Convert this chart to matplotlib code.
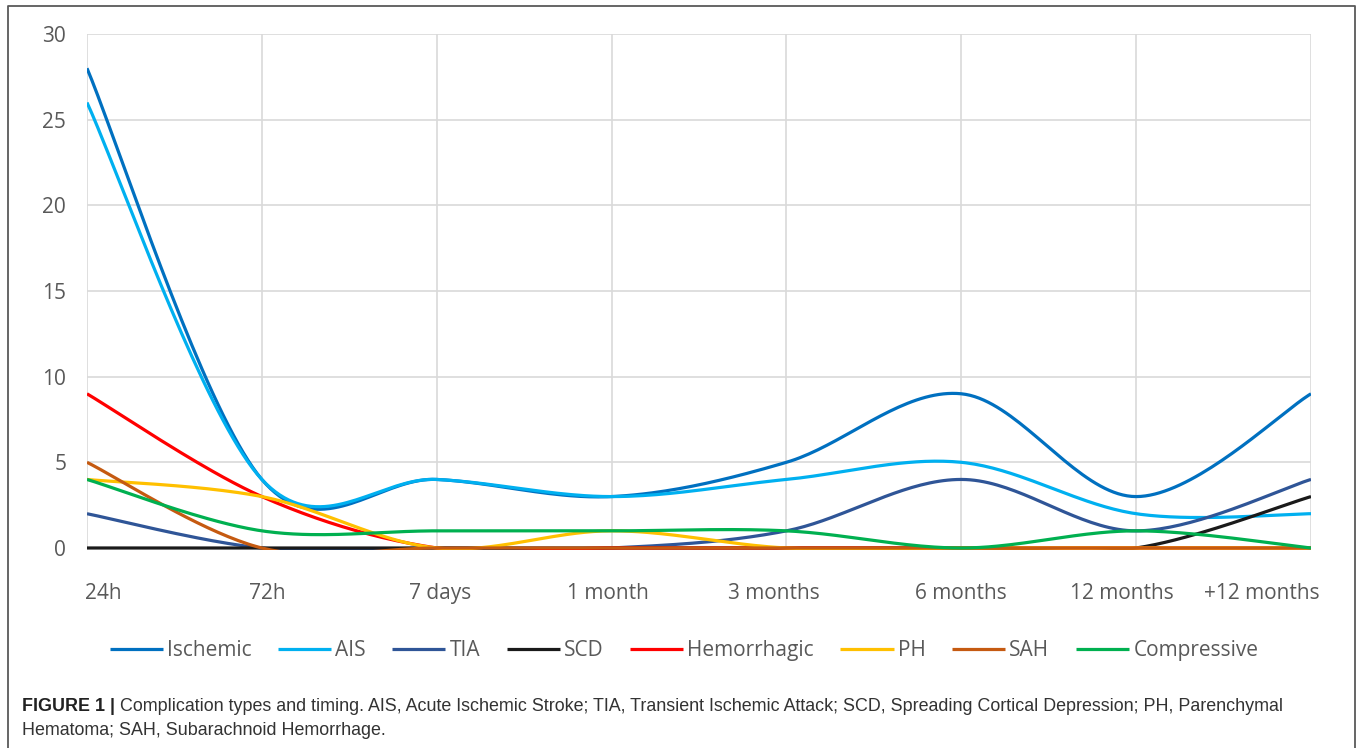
import numpy as np
import matplotlib
matplotlib.use("Agg")
import matplotlib.pyplot as plt
from matplotlib.lines import Line2D
from matplotlib.transforms import Bbox, TransformedBbox, ScaledTranslation

categories = ["24h", "72h", "7 days", "1 month", "3 months", "6 months", "12 months", "+12 months"]

ischemic = [28, 4, 4, 3, 5, 9, 3, 9]
ais = [26, 4, 4, 3, 4, 5, 2, 2]
tia = [2, 0, 0, 0, 1, 4, 1, 4]
scd = [0, 0, 0, 0, 0, 0, 0, 3]
hemorrhagic = [9, 3, 0, 0, 0, 0, 0, 0]
ph = [4, 3, 0, 1, 0, 0, 0, 0]
sah = [5, 0, 0, 0, 0, 0, 0, 0]
compressive = [4, 1, 1, 1, 1, 0, 1, 0]

series = [
    ("Ischemic", ischemic, "#0070C0"),
    ("AIS", ais, "#00B0F0"),
    ("TIA", tia, "#2F5597"),
    ("SCD", scd, "#1a1a1a"),
    ("Hemorrhagic", hemorrhagic, "#FF0000"),
    ("PH", ph, "#FFC000"),
    ("SAH", sah, "#C55A11"),
    ("Compressive", compressive, "#00B050"),
]


def smooth(xs, ys, steps=40):
    # smoothed line: cubic bezier segments with 1/6 tangents
    xs = np.asarray(xs, float)
    ys = np.asarray(ys, float)
    n = len(xs)
    t = np.linspace(0, 1, steps)[:, None]
    out = []
    for i in range(n - 1):
        a = max(i - 1, 0)
        b = min(i + 2, n - 1)
        p0 = np.array([xs[i], ys[i]])
        p3 = np.array([xs[i + 1], ys[i + 1]])
        c1 = p0 + (p3 - np.array([xs[a], ys[a]])) / 6
        c2 = p3 - (np.array([xs[b], ys[b]]) - p0) / 6
        seg = ((1 - t) ** 3) * p0 + 3 * ((1 - t) ** 2) * t * c1 + 3 * (1 - t) * t ** 2 * c2 + t ** 3 * p3
        out.append(seg if i == 0 else seg[1:])
    pts = np.vstack(out)
    return pts[:, 0], pts[:, 1]


plt.rcParams["font.family"] = ["Open Sans", "DejaVu Sans"]

fig = plt.figure(figsize=(13.57, 7.48), dpi=100)
ax = fig.add_axes([0.0641, 0.2674, 0.902, 0.6872])

# clip at the plot area, leaving room for the stroke at y=0
clip = TransformedBbox(Bbox([[0, -0.004], [1, 1.01]]), ax.transAxes)

x = np.arange(len(categories))
for name, vals, col in series:
    sx, sy = smooth(x, vals)
    ln, = ax.plot(sx, sy, color=col, lw=2.3, label=name,
                  solid_capstyle="butt", zorder=3)
    ln.set_clip_box(clip)

ax.set_xlim(0, len(categories) - 1)
ax.set_ylim(0, 30)
ax.set_yticks(range(0, 31, 5))
ax.set_xticks(x)
ax.set_xticklabels(categories)
ax.grid(True, color="#d9d9d9", lw=1.2)
ax.set_axisbelow(True)
for s in ax.spines.values():
    s.set_visible(False)
ax.tick_params(length=0, labelsize=15, labelcolor="#595959")
ax.tick_params(axis="y", pad=15)
ax.tick_params(axis="x", pad=25)

# nudge the category labels a little, as the label layout does
shifts = [-2, 5, 3, -4, -13, 0, -14, 9]
labels = ax.get_xticklabels()
for lab, dx in zip(labels, shifts):
    lab.set_transform(lab.get_transform() + ScaledTranslation(dx / 100, 0, fig.dpi_scale_trans))
labels[0].set_horizontalalignment("left")
labels[-1].set_horizontalalignment("right")

leg = fig.legend(loc="center", bbox_to_anchor=(0.504, 0.1297), ncol=8, frameon=False,
                 handlelength=2.55, handletextpad=0.2, columnspacing=1.27,
                 prop={"size": 15})
for t in leg.get_texts():
    t.set_color("#595959")

# outer frame (open at the bottom)
fig.add_artist(Line2D([0.0059, 0.0059, 0.9985, 0.9985], [0.0, 0.992, 0.992, 0.0],
                      transform=fig.transFigure, color="#595959", lw=1.3))

cap_kw = dict(family=["Liberation Sans", "DejaVu Sans"], fontsize=12.9, color="#333333")
bold = fig.text(22 / 1357, 1 - 711 / 748, "FIGURE 1 |", fontweight="bold", va="baseline",
                family=["Liberation Sans Narrow", "Liberation Sans", "DejaVu Sans"],
                fontsize=12.9, color="#222222")
fig.add_artist(plt.Annotation(" Complication types and timing. AIS, Acute Ischemic Stroke; TIA, Transient Ischemic Attack; "
                              "SCD, Spreading Cortical Depression; PH, Parenchymal",
                              xy=(1, 0), xycoords=bold, va="bottom", ha="left", **cap_kw))
fig.text(22 / 1357, 1 - 735 / 748, "Hematoma; SAH, Subarachnoid Hemorrhage.", va="baseline", **cap_kw)

fig.savefig("out.png", dpi=100)
